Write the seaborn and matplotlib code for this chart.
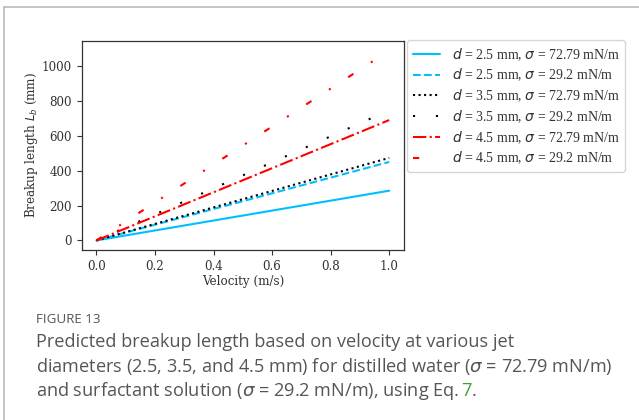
import seaborn as sns
import matplotlib.pyplot as plt
import pandas as pd
import numpy as np

# velocity end points (m/s) and predicted breakup length (mm)
velocity = [0.0, 1.0]
d25_water = [0, 285]
d25_surf = [0, 450]
d35_water = [0, 473]
d35_surf = [0, 746]
d45_water = [0, 690]
d45_surf = [0, 1088]

labels = [
    r"$d$ = 2.5 mm, $\sigma$ = 72.79 mN/m",
    r"$d$ = 2.5 mm, $\sigma$ = 29.2 mN/m",
    r"$d$ = 3.5 mm, $\sigma$ = 72.79 mN/m",
    r"$d$ = 3.5 mm, $\sigma$ = 29.2 mN/m",
    r"$d$ = 4.5 mm, $\sigma$ = 72.79 mN/m",
    r"$d$ = 4.5 mm, $\sigma$ = 29.2 mN/m",
]
series = [d25_water, d25_surf, d35_water, d35_surf, d45_water, d45_surf]
colors = ["#00BFFF", "#00BFFF", "black", "black", "red", "red"]
styles = ["-", "--", ":", (0, (1, 10)), "-.", (0, (3, 10, 1, 10))]

sns.set_style("ticks")
plt.rcParams["font.family"] = ["DejaVu Serif"]

fig = plt.figure(figsize=(6.39, 4.2), dpi=100)
ax = fig.add_axes([0.128, 0.405, 0.504, 0.497])

for vals, lab, c, ls in zip(series, labels, colors, styles):
    df = pd.DataFrame({"v": velocity, "L": vals})
    sns.lineplot(data=df, x="v", y="L", ax=ax, color=c, linestyle=ls,
                 linewidth=1.5, label=lab)

ax.set_xticks([0.0, 0.2, 0.4, 0.6, 0.8, 1.0])
ax.set_yticks([0, 200, 400, 600, 800, 1000])
ax.margins(0.05)
ax.set_xlabel("Velocity (m/s)", fontsize=8.6, color="#333333", labelpad=2)
ax.set_ylabel(r"Breakup length $L_b$ (mm)", fontsize=8.6, color="#333333", labelpad=1.5)
ax.tick_params(labelsize=8.6, colors="#333333", length=3.5)
for sp in ax.spines.values():
    sp.set_color("#333333")
    sp.set_linewidth(0.9)

leg = ax.legend(loc="upper left", bbox_to_anchor=(1.01, 1.004),
                prop={"family": "Liberation Serif", "size": 10},
                frameon=True, borderaxespad=0, handlelength=2.0, labelspacing=0.3,
                borderpad=0.4, handletextpad=0.8, labelcolor="#333333")

# card border
fig.add_artist(plt.Line2D([0.0063, 0.0063], [0.0, 0.983], color="#bbbbbb", lw=1.2))
fig.add_artist(plt.Line2D([0.0063, 1.0], [0.983, 0.983], color="#bbbbbb", lw=1.2))

cap = "#555555"
x0 = 0.057
fs = 13.1
fig.text(x0, 0.24, "FIGURE 13", family="Open Sans", fontsize=9.6, color=cap, va="center")
fig.text(x0, 0.186, "Predicted breakup length based on velocity at various jet",
         family="Open Sans", fontsize=fs, color=cap, va="center")
fig.text(x0, 0.127,
         r"diameters (2.5, 3.5, and 4.5 mm) for distilled water ($\sigma$ = 72.79 mN/m)",
         family="Open Sans", fontsize=fs, color=cap, va="center")
t = fig.text(x0, 0.068, r"and surfactant solution ($\sigma$ = 29.2 mN/m), using Eq. ",
             family="Open Sans", fontsize=fs, color=cap, va="center")
fig.canvas.draw()
bb = t.get_window_extent()
x_end = fig.transFigure.inverted().transform((bb.x1, bb.y0))[0]
t2 = fig.text(x_end, 0.068, "7", family="Open Sans", fontsize=fs, color="#3aa335", va="center")
fig.canvas.draw()
bb2 = t2.get_window_extent()
x_end2 = fig.transFigure.inverted().transform((bb2.x1, bb2.y0))[0]
fig.text(x_end2, 0.068, ".", family="Open Sans", fontsize=fs, color=cap, va="center")

fig.savefig("out.png", dpi=100)
